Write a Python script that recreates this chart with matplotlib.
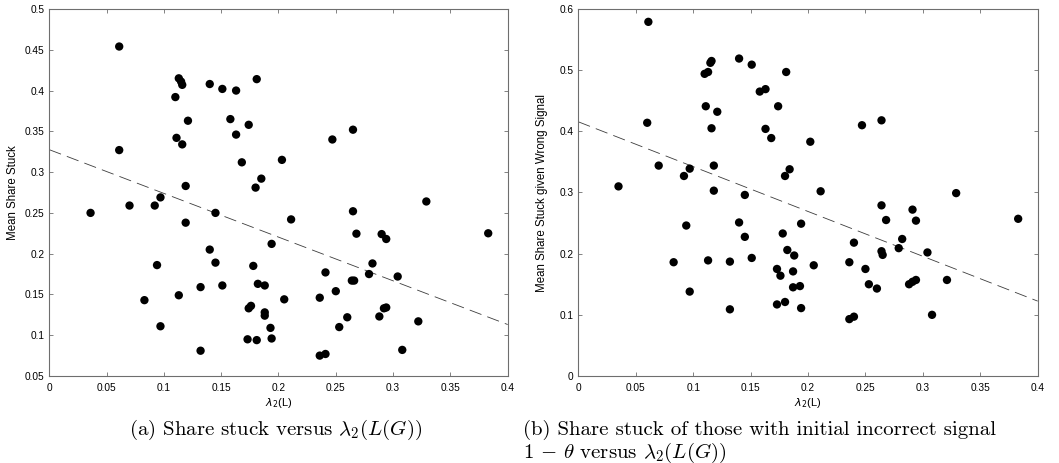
import matplotlib
matplotlib.use("Agg")
import matplotlib.pyplot as plt
import numpy as np
from matplotlib.ticker import FormatStrFormatter, MultipleLocator

# algebraic connectivity of each network and the share of agents stuck
lam_a = [0.061, 0.061, 0.113, 0.115, 0.116, 0.110, 0.140, 0.151, 0.163, 0.181,
         0.121, 0.158, 0.174, 0.111, 0.116, 0.163, 0.168, 0.203, 0.247, 0.265,
         0.185, 0.180, 0.119, 0.097, 0.329,
         0.036, 0.070, 0.092, 0.119, 0.145, 0.211, 0.265, 0.268, 0.290, 0.294,
         0.383, 0.194, 0.140, 0.145, 0.094, 0.178, 0.241, 0.282, 0.279, 0.304,
         0.264, 0.266, 0.250, 0.182, 0.188, 0.151, 0.132, 0.113, 0.083, 0.205,
         0.236, 0.174, 0.176, 0.188, 0.188, 0.292, 0.294, 0.288, 0.260, 0.322,
         0.097, 0.193, 0.253, 0.173, 0.181, 0.194, 0.132, 0.236, 0.241, 0.308]
share_stuck = [0.454, 0.327, 0.415, 0.411, 0.407, 0.392, 0.408, 0.402, 0.400, 0.414,
               0.363, 0.365, 0.358, 0.342, 0.334, 0.346, 0.312, 0.315, 0.340, 0.352,
               0.292, 0.281, 0.283, 0.269, 0.264,
               0.250, 0.259, 0.259, 0.238, 0.250, 0.242, 0.252, 0.2245, 0.224, 0.218,
               0.225, 0.212, 0.205, 0.189, 0.186, 0.185, 0.177, 0.188, 0.175, 0.172,
               0.167, 0.167, 0.154, 0.163, 0.161, 0.161, 0.159, 0.149, 0.143, 0.144,
               0.146, 0.133, 0.136, 0.128, 0.124, 0.133, 0.134, 0.123, 0.122, 0.117,
               0.111, 0.109, 0.110, 0.095, 0.094, 0.096, 0.081, 0.075, 0.077, 0.082]

# same networks, share stuck among agents with the wrong initial signal
lam_b = [0.061, 0.060, 0.116, 0.115, 0.113, 0.110, 0.140, 0.151, 0.181, 0.158,
         0.163, 0.111, 0.121, 0.174, 0.116, 0.163, 0.168, 0.202, 0.247, 0.264,
         0.070, 0.092, 0.097, 0.118, 0.184, 0.180,
         0.035, 0.118, 0.145, 0.211, 0.329, 0.264, 0.291, 0.268, 0.294, 0.383,
         0.094, 0.140, 0.194, 0.145, 0.178, 0.282, 0.240, 0.279, 0.264, 0.265,
         0.304, 0.182, 0.188, 0.151, 0.083, 0.113, 0.132, 0.205, 0.236, 0.173,
         0.176, 0.187, 0.250, 0.187, 0.193, 0.253, 0.260, 0.288, 0.291, 0.294,
         0.321, 0.097, 0.173, 0.180, 0.194, 0.132, 0.236, 0.240, 0.308]
share_stuck_wrong = [0.579, 0.414, 0.515, 0.512, 0.497, 0.494, 0.519, 0.509, 0.497, 0.465,
                     0.469, 0.441, 0.432, 0.441, 0.405, 0.404, 0.389, 0.383, 0.410, 0.418,
                     0.344, 0.327, 0.339, 0.344, 0.338, 0.327,
                     0.310, 0.303, 0.296, 0.302, 0.299, 0.279, 0.272, 0.255, 0.254, 0.257,
                     0.246, 0.251, 0.249, 0.2275, 0.233, 0.224, 0.218, 0.209, 0.204, 0.198,
                     0.202, 0.206, 0.197, 0.193, 0.186, 0.189, 0.187, 0.181, 0.186, 0.175,
                     0.164, 0.171, 0.175, 0.145, 0.147, 0.150, 0.143, 0.150, 0.154, 0.157,
                     0.157, 0.138, 0.117, 0.121, 0.111, 0.109, 0.093, 0.097, 0.100]

# least-squares lines (intercept, slope)
fit_a = (0.3275, -0.536)
fit_b = (0.4156, -0.733)

caption_a = r"(a) Share stuck versus $\lambda_2(L(G))$"
caption_b = ["(b) Share stuck of those with initial incorrect signal",
             r"$1\,-\,\theta$ versus $\lambda_2(L(G))$"]

FIG_W, FIG_H = 1059, 463
DPI = 100

plt.rcParams["font.family"] = ["Liberation Sans", "DejaVu Sans"]
plt.rcParams["mathtext.fontset"] = "cm"
plt.rcParams["lines.scale_dashes"] = False

fig = plt.figure(figsize=(FIG_W / DPI, FIG_H / DPI), dpi=DPI)
fig.patch.set_facecolor("white")


def px_axes(x0, x1, y0, y1):
    """Axes placed by pixel box (top-left origin)."""
    return fig.add_axes([x0 / FIG_W, 1 - y1 / FIG_H, (x1 - x0) / FIG_W, (y1 - y0) / FIG_H])


def style_axes(ax, ylim, ystep, ylabel):
    ax.set_xlim(0, 0.4)
    ax.set_ylim(*ylim)
    ax.xaxis.set_major_locator(MultipleLocator(0.05))
    ax.yaxis.set_major_locator(MultipleLocator(ystep))
    ax.xaxis.set_major_formatter(FormatStrFormatter("%g"))
    ax.yaxis.set_major_formatter(FormatStrFormatter("%g"))
    ax.tick_params(direction="in", length=3.2, width=0.6, color="#6e6e6e",
                   top=True, right=True, labelsize=7.3)
    ax.tick_params(axis="x", pad=5)
    ax.tick_params(axis="y", pad=3.5)
    for sp in ax.spines.values():
        sp.set_color("#6e6e6e")
        sp.set_linewidth(0.8)
    ax.set_xlabel(r"$\lambda_2$(L)", fontsize=8, math_fontfamily="dejavusans")
    ax.xaxis.set_label_coords(0.5, -0.055)
    ax.set_ylabel(ylabel, fontsize=8.3)
    ax.yaxis.set_label_coords(-0.066, 0.5)


def draw_panel(ax, lam, share, fit):
    ax.scatter(lam, share, s=36, color="black", edgecolors="none", zorder=3)
    xs = np.array([0.0, 0.4])
    ax.plot(xs, fit[0] + fit[1] * xs, color="#3c3c3c", lw=0.6,
            dashes=(9, 4.5), zorder=2)


ax_a = px_axes(49.3, 507.7, 9, 376)
draw_panel(ax_a, lam_a, share_stuck, fit_a)
style_axes(ax_a, (0.05, 0.5), 0.05, "Mean Share Stuck")

ax_b = px_axes(578.3, 1037.7, 9, 376)
draw_panel(ax_b, lam_b, share_stuck_wrong, fit_b)
style_axes(ax_b, (0, 0.6), 0.1, "Mean Share Stuck given Wrong Signal")

# sub-figure captions
cap = dict(family="cmr10", fontsize=15, va="center")
fig.text(276 / FIG_W, 1 - 430 / FIG_H, caption_a, ha="center", **cap)
fig.text(523 / FIG_W, 1 - 430 / FIG_H, caption_b[0], ha="left", **cap)
fig.text(523 / FIG_W, 1 - 453 / FIG_H, caption_b[1], ha="left", **cap)

fig.savefig("out.png", dpi=DPI)
